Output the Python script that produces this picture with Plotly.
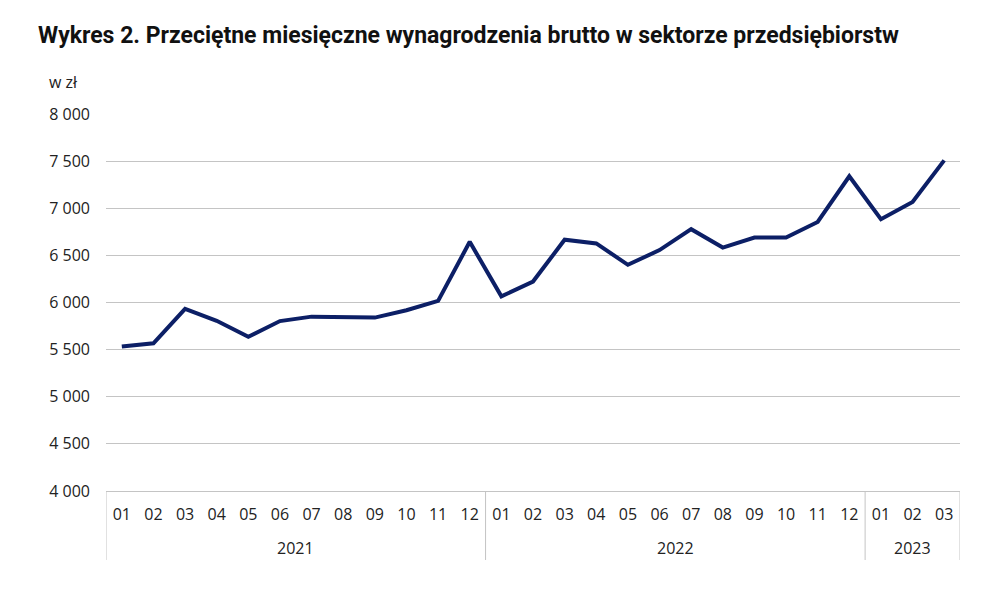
import plotly.graph_objects as go

years = ["2021"] * 12 + ["2022"] * 12 + ["2023"] * 3
months = ["01", "02", "03", "04", "05", "06", "07", "08", "09", "10", "11", "12"] * 2 + ["01", "02", "03"]
wages = [5532, 5567, 5932, 5806, 5637, 5803, 5850, 5842, 5840, 5918, 6017, 6644,
         6065, 6222, 6666, 6627, 6400, 6556, 6778, 6583, 6690, 6690, 6855, 7339,
         6884, 7066, 7508]
y_ticks = [4000, 4500, 5000, 5500, 6000, 6500, 7000, 7500, 8000]

cats = [f"{y}-{m}" for y, m in zip(years, months)]

# group boundaries and centres derived from the year list
groups = []
start = 0
for i in range(1, len(years) + 1):
    if i == len(years) or years[i] != years[start]:
        groups.append((years[start], start, i - 1))
        start = i

fig = go.Figure()
fig.add_trace(go.Scatter(
    x=cats, y=wages, mode="lines",
    line=dict(color="#0C1F66", width=4),
    hoverinfo="y", showlegend=False,
))

shapes = []
annotations = [dict(text="w zł", xref="paper", yref="paper", x=-0.069, y=1.085,
                    xanchor="left", yanchor="middle", showarrow=False,
                    font=dict(size=16, color="#222222"))]
bounds = sorted({g[1] - 0.5 for g in groups} | {g[2] + 0.5 for g in groups})
for b in bounds:
    shapes.append(dict(type="line", xref="x", yref="paper", x0=b, x1=b, y0=0, y1=-0.183,
                       line=dict(color="#c4c4c4", width=1)))
for name, s, e in groups:
    annotations.append(dict(text=name, xref="x", yref="paper", x=(s + e) / 2, y=-0.151,
                            xanchor="center", yanchor="middle", showarrow=False,
                            font=dict(size=16, color="#222222")))

fig.update_layout(
    width=988, height=589,
    margin=dict(l=98, r=36, t=106, b=106),
    paper_bgcolor="white", plot_bgcolor="white",
    separators=", ",
    font=dict(family="Open Sans", size=16, color="#222222"),
    title=dict(text="<b>Wykres 2. Przeciętne miesięczne wynagrodzenia brutto w sektorze przedsiębiorstw</b>",
               x=30 / 988, xanchor="left", y=0.954, yanchor="middle",
               font=dict(family="Roboto", size=23, color="#111111")),
    shapes=shapes,
    annotations=annotations,
)
fig.update_yaxes(range=[4000, 8000], tickvals=y_ticks, tickformat=",d",
                 showgrid=True, gridcolor="#c4c4c4", gridwidth=1,
                 zeroline=False, showline=False, ticks="", ticklabelstandoff=15)
fig.update_xaxes(type="category", tickvals=cats, ticktext=months,
                 range=[-0.5, len(cats) - 0.5],
                 showline=True, linecolor="#c4c4c4", linewidth=1,
                 showgrid=False, ticks="", ticklabelstandoff=9, tickangle=0)

fig.write_html("out.html")
